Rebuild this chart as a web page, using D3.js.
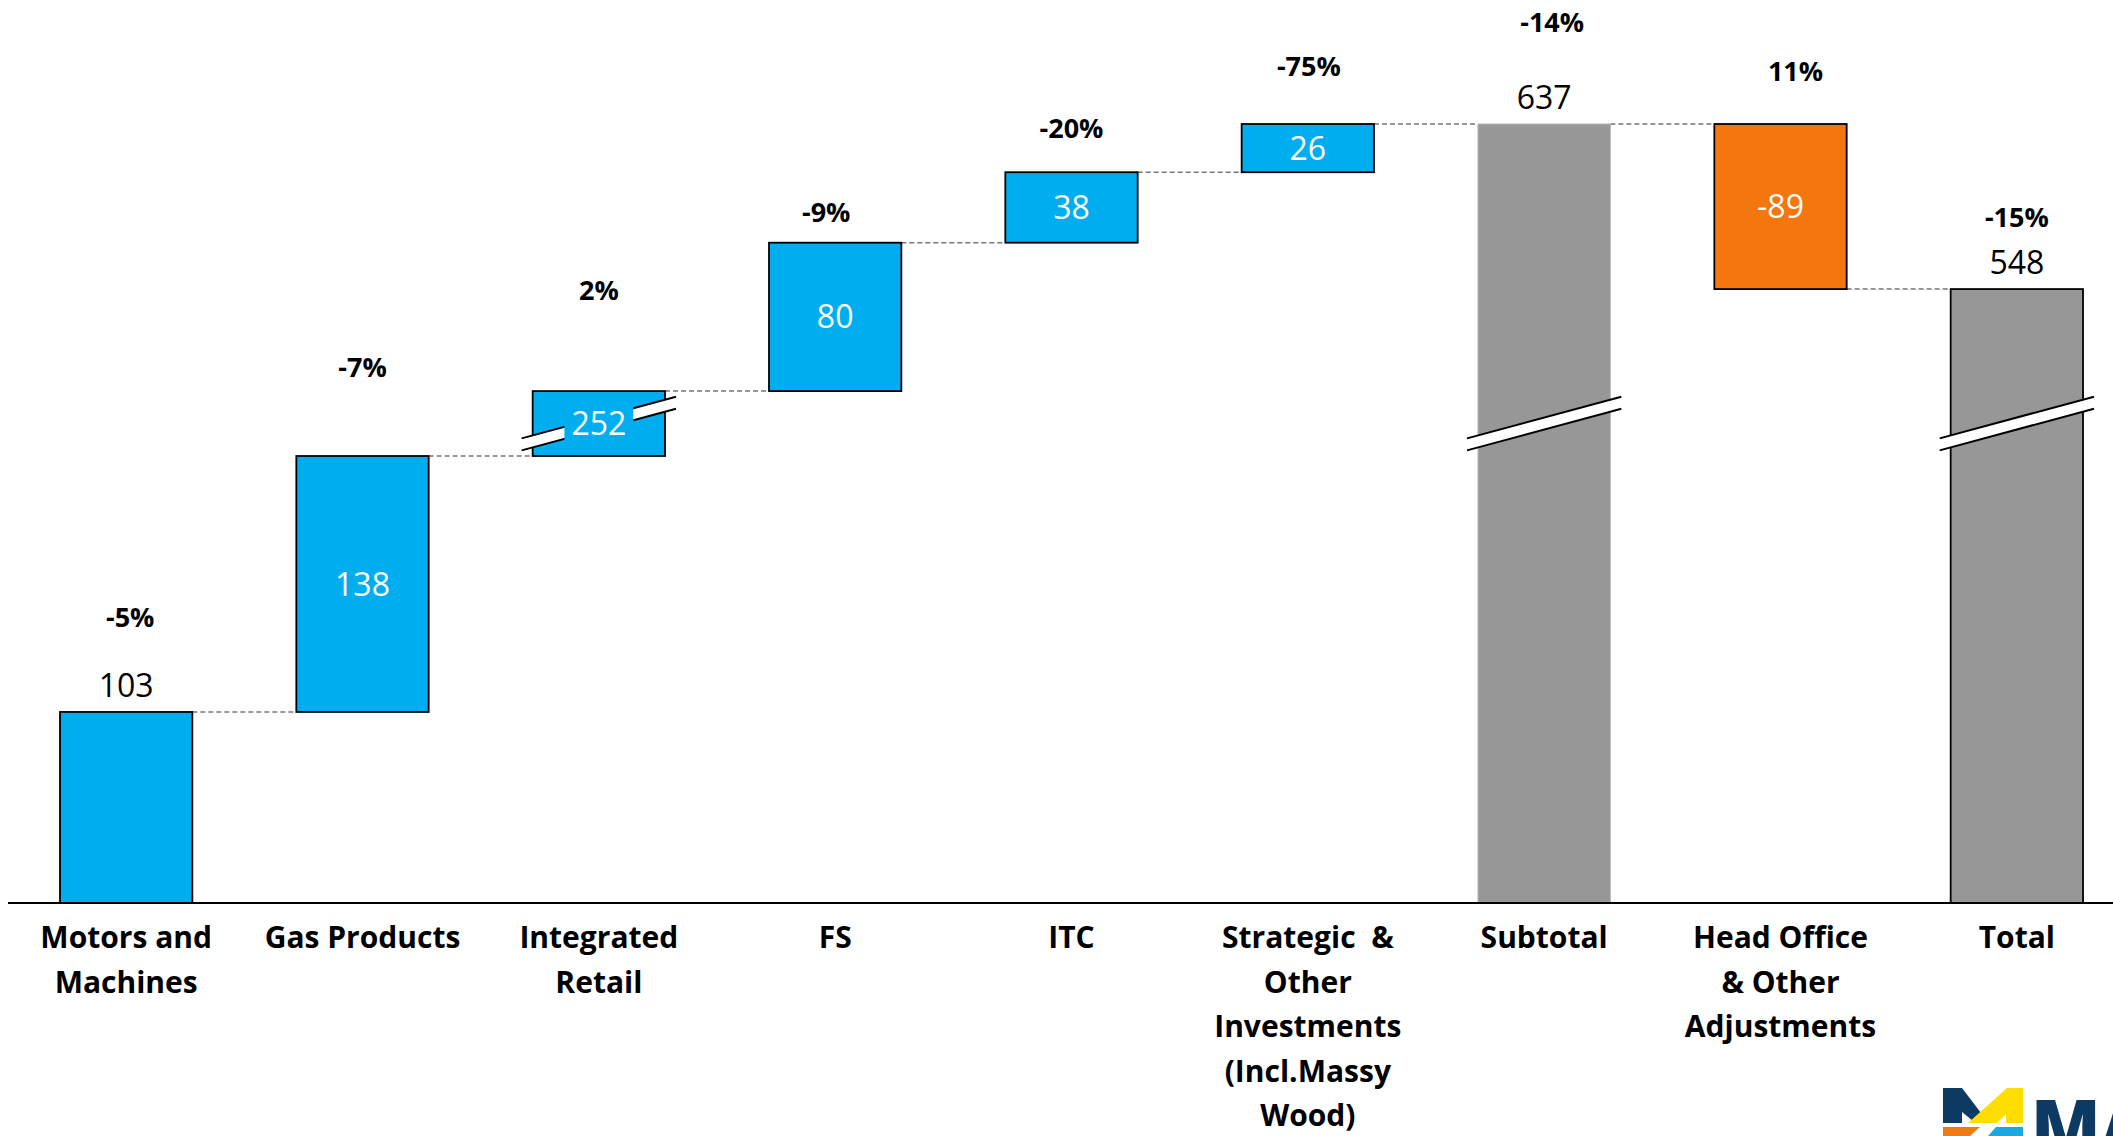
<!DOCTYPE html>
<html>
<head>
<meta charset="utf-8">
<script src="https://cdn.jsdelivr.net/npm/d3@7/dist/d3.min.js"></script>
<style>
  html, body { margin: 0; padding: 0; background: #ffffff; }
  svg { display: block; }
  text { font-family: "Open Sans", Lato, "DejaVu Sans", sans-serif; }
</style>
</head>
<body>
<svg id="chart" width="2113" height="1136"></svg>
<script>
// Segment profit bridge (waterfall) — categories, amounts, YoY change
const categories = [
  ["Motors and", "Machines"],
  ["Gas Products"],
  ["Integrated", "Retail"],
  ["FS"],
  ["ITC"],
  ["Strategic  &", "Other", "Investments", "(Incl.Massy", "Wood)"],
  ["Subtotal"],
  ["Head Office", "& Other", "Adjustments"],
  ["Total"]
];
const values   = [103, 138, 252, 80, 38, 26, 637, -89, 548];
const kinds    = ["start", "delta", "delta", "delta", "delta", "delta", "subtotal", "delta", "total"];
const changePct = [-5, -7, 2, -9, -20, -75, -14, 11, -15];

// The Integrated Retail step is drawn on a broken axis
const brokenIndex = 2;
const brokenShownUnits = 35;

// Hand-placed offsets of the % labels above each bar (px)
const pctLift = [85, 79, 91, 21, 34, 48, 92, 43, 62];
const pctShift = [4, 0, 0, -9, 0, 1, 8, 15, 0];

const COLORS = {
  blue: "#00AEEF",
  orange: "#F3760E",
  gray: "#979797",
  connector: "#767676"
};

const svg = d3.select("#chart");
const axisY = 903;
const topY = 124;

// running totals
const rows = [];
let run = 0;
values.forEach((v, i) => {
  const k = kinds[i];
  let y0, y1;
  if (k === "start" || k === "subtotal" || k === "total") {
    y0 = 0; y1 = v; run = v;
  } else {
    y0 = run; y1 = run + v; run = y1;
  }
  rows.push({ i, v, kind: k, lo: Math.min(y0, y1), hi: Math.max(y0, y1), end: y1 });
});

const breakLo = rows[brokenIndex].lo;
const breakHi = rows[brokenIndex].hi;
const maxVal = d3.max(rows, d => d.hi);
const shownMax = maxVal - (breakHi - breakLo) + brokenShownUnits;
const pxPerUnit = (axisY - topY) / shownMax;

// piecewise scale that compresses the broken span
const y = d3.scaleLinear()
  .domain([0, breakLo, breakHi, maxVal])
  .range([axisY,
          axisY - breakLo * pxPerUnit,
          axisY - (breakLo + brokenShownUnits) * pxPerUnit,
          topY]);

const x = d3.scaleBand()
  .domain(d3.range(categories.length))
  .range([8, 2135])
  .paddingInner(0.44)
  .paddingOuter(0.22);
const bw = x.bandwidth();

// dashed connectors between consecutive bars
const conn = svg.append("g");
rows.slice(0, -1).forEach((d, i) => {
  conn.append("line")
    .attr("x1", x(i) + bw)
    .attr("x2", x(i + 1))
    .attr("y1", y(d.end))
    .attr("y2", y(d.end))
    .attr("stroke", COLORS.connector)
    .attr("stroke-width", 1.5)
    .attr("stroke-dasharray", "5,3");
});

// bars
const fillOf = d => d.kind === "subtotal" || d.kind === "total" ? COLORS.gray
  : (d.v < 0 ? COLORS.orange : COLORS.blue);
svg.append("g").selectAll("rect")
  .data(rows)
  .join("rect")
  .attr("x", d => x(d.i))
  .attr("width", bw)
  .attr("y", d => y(d.hi))
  .attr("height", d => y(d.lo) - y(d.hi))
  .attr("fill", fillOf)
  .attr("stroke", d => d.kind === "subtotal" ? "#b5b5b5" : "#000")
  .attr("stroke-width", d => d.kind === "subtotal" ? 1 : 1.8);

// axis break marks on every bar that crosses the broken span
const breakMid = y((breakLo + breakHi) / 2);
const slope = 0.27, halfGap = 6, ext = 11;
const breaks = svg.append("g");
rows.filter(d => d.lo <= breakLo && d.hi >= breakHi).forEach(d => {
  const xa = x(d.i) - ext, xb = x(d.i) + bw + ext;
  const cx = x(d.i) + bw / 2;
  const yAt = (xx, off) => breakMid + off - slope * (xx - cx);
  breaks.append("polygon")
    .attr("points", [[xa, yAt(xa, -halfGap)], [xb, yAt(xb, -halfGap)],
                     [xb, yAt(xb, halfGap)], [xa, yAt(xa, halfGap)]].join(" "))
    .attr("fill", "#fff");
  [-halfGap, halfGap].forEach(off => {
    breaks.append("line")
      .attr("x1", xa).attr("y1", yAt(xa, off))
      .attr("x2", xb).attr("y2", yAt(xb, off))
      .attr("stroke", "#000").attr("stroke-width", 2);
  });
});

// value labels
const valG = svg.append("g");
rows.forEach(d => {
  const cx = x(d.i) + bw / 2;
  if (d.kind === "delta") {
    const cy = (y(d.lo) + y(d.hi)) / 2;
    const t = valG.append("text")
      .attr("x", cx).attr("y", cy).attr("dy", "0.36em")
      .attr("text-anchor", "middle")
      .attr("font-size", 32)
      .attr("fill", "#fff")
      .text(d.v);
    if (d.i === brokenIndex) {
      // open the break band around the label
      const bb = t.node().getBBox();
      const top = Math.max(y(d.hi) + 2, bb.y + 2);
      const bot = Math.min(y(d.lo) - 2, bb.y + bb.height + 2);
      valG.insert("rect", () => t.node())
        .attr("x", bb.x - 7).attr("width", bb.width + 14)
        .attr("y", top).attr("height", bot - top)
        .attr("fill", COLORS.blue);
    }
  } else {
    valG.append("text")
      .attr("x", cx).attr("y", y(d.hi) - 15)
      .attr("text-anchor", "middle")
      .attr("font-size", 32)
      .attr("fill", "#000")
      .text(d.v);
  }
});

// % change labels
svg.append("g").selectAll("text")
  .data(rows)
  .join("text")
  .attr("x", d => x(d.i) + bw / 2 + pctShift[d.i])
  .attr("y", d => y(d.hi) - pctLift[d.i])
  .attr("text-anchor", "middle")
  .attr("font-size", 27)
  .attr("font-weight", 700)
  .attr("fill", "#000")
  .text(d => changePct[d.i] + "%");

// category axis
const axis = d3.axisBottom(x).tickSize(0).tickSizeOuter(0).tickFormat("");
const ax = svg.append("g")
  .attr("transform", `translate(0,${axisY})`)
  .call(axis);
ax.select(".domain").attr("stroke", "#000").attr("stroke-width", 2)
  .attr("d", `M8,0H2113`);
ax.selectAll(".tick").each(function(i) {
  const t = d3.select(this).select("text")
    .attr("y", 0).attr("dy", null)
    .attr("fill", "#000")
    .attr("font-size", 30)
    .attr("font-weight", 700)
    .style("white-space", "pre");
  categories[i].forEach((line, j) => {
    t.append("tspan").attr("x", 0).attr("y", 45 + j * 44.5).text(line);
  });
});

// corporate mark, bottom right
const logo = svg.append("g");
logo.append("polygon").attr("fill", "#0D3A63")
  .attr("points", "1943,1088 1962,1088 1981,1113 1973,1121 1962,1112 1962,1123 1943,1123");
logo.append("polygon").attr("fill", "#FFDD00")
  .attr("points", "1968,1123 2007,1088 2023,1088 2023,1123 2006,1123 2006,1114 1997,1123");
logo.append("polygon").attr("fill", "#F07A12")
  .attr("points", "1943,1127 1980,1127 1970,1136 1943,1136");
logo.append("polygon").attr("fill", "#1AA7E4")
  .attr("points", "1996,1127 2023,1127 2023,1136 1988,1136");
logo.append("text")
  .attr("x", 2031).attr("y", 1152)
  .attr("font-size", 72).attr("font-weight", 800)
  .attr("fill", "#0D3A63")
  .text("MASSY");
</script>
</body>
</html>
